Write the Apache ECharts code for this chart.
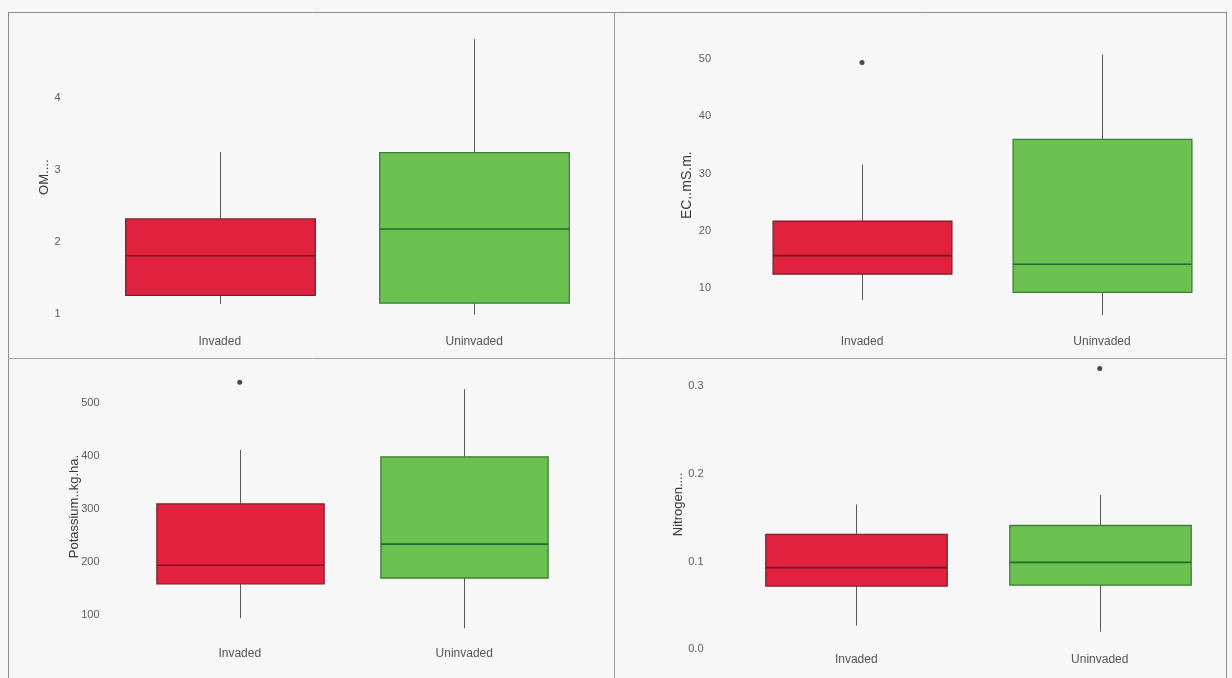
<!DOCTYPE html>
<html>
<head>
<meta charset="utf-8">
<title>Soil properties: invaded vs uninvaded plots</title>
<script src="https://cdn.jsdelivr.net/npm/echarts@6/dist/echarts.min.js"></script>
<style>
  html, body { margin: 0; padding: 0; background: #f7f7f7; }
  #chart { width: 1232px; height: 678px; }
</style>
</head>
<body>
<div id="chart"></div>
<script>
// Site groups on every x axis
const groups = ['Invaded', 'Uninvaded'];

// Five-number summaries per group: [lower whisker, Q1, median, Q3, upper whisker]
const omStats = [[1.14, 1.26, 1.81, 2.32, 3.25], [0.99, 1.15, 2.18, 3.24, 4.82]];
const ecStats = [[7.96, 12.5, 15.7, 21.7, 31.6], [5.3, 9.3, 14.2, 36.0, 50.8]];
const kStats = [[94, 159, 194, 310, 412], [75, 170, 234, 399, 527]];
const nStats = [[0.027, 0.072, 0.093, 0.131, 0.165], [0.020, 0.073, 0.099, 0.141, 0.176]];

// Points beyond the whiskers
const omOutliers = [];
const ecOutliers = [['Invaded', 49.4]];
const kOutliers = [['Invaded', 540]];
const nOutliers = [['Uninvaded', 0.32]];

// Variable names as they appear on the y axes
const varNames = ['OM....', 'EC..mS.m.', 'Potassium..kg.ha.', 'Nitrogen....'];

// Labelled tick values per panel
const omTicks = [1, 2, 3, 4];
const ecTicks = [10, 20, 30, 40, 50];
const kTicks = [100, 200, 300, 400, 500];
const nTicks = [0.0, 0.1, 0.2, 0.3];

const boxFill = ['#e1223f', '#6dc150'];
const boxEdge = ['#7c2130', '#3f7d3a'];
const medianEdge = ['#6b1c26', '#1f6a2d'];

const panels = [
  { stats: omStats, outliers: omOutliers, name: varNames[0], ticks: omTicks, digits: 0,
    grid: { left: 92.5, top: 26, width: 509, height: 302.4 },
    y: { min: 0.8, max: 5, interval: 0.2 }, xMargin: 7, yMargin: 32, nameGap: 42, nameSize: 13 },
  { stats: ecStats, outliers: ecOutliers, name: varNames[1], ticks: ecTicks, digits: 0,
    grid: { left: 742, top: 47.6, width: 480, height: 275.1 },
    y: { min: 4, max: 52, interval: 2 }, xMargin: 13, yMargin: 31, nameGap: 48, nameSize: 14 },
  { stats: kStats, outliers: kOutliers, name: varNames[2], ticks: kTicks, digits: 0,
    grid: { left: 127.5, top: 371.7, width: 449, height: 269.8 },
    y: { min: 50, max: 560, interval: 10 }, xMargin: 6, yMargin: 28, nameGap: 47, nameSize: 13 },
  { stats: nStats, outliers: nOutliers, name: varNames[3], ticks: nTicks, digits: 1,
    grid: { left: 734.5, top: 359.6, width: 487, height: 289.7 },
    y: { min: 0, max: 0.33, interval: 0.01 }, xMargin: 4, yMargin: 31, nameGap: 50, nameSize: 13 }
];

function tickFormatter(ticks, digits) {
  return function (v) {
    for (const t of ticks) {
      if (Math.abs(v - t) < 1e-7) return t.toFixed(digits);
    }
    return '';
  };
}

// Box with plain whiskers (no end caps)
function renderBox(params, api) {
  const cat = api.value(0);
  const lo = api.coord([cat, api.value(1)]);
  const q1 = api.coord([cat, api.value(2)]);
  const med = api.coord([cat, api.value(3)]);
  const q3 = api.coord([cat, api.value(4)]);
  const hi = api.coord([cat, api.value(5)]);
  const band = api.size([1, 0])[0];
  const w = band * 0.745;
  const x = Math.round(lo[0]) + 0.5;
  return {
    type: 'group',
    children: [
      { type: 'line', shape: { x1: x, y1: hi[1], x2: x, y2: q3[1] }, style: { stroke: '#5a5a5a', lineWidth: 1 } },
      { type: 'line', shape: { x1: x, y1: q1[1], x2: x, y2: lo[1] }, style: { stroke: '#5a5a5a', lineWidth: 1 } },
      { type: 'rect', shape: { x: x - w / 2, y: q3[1], width: w, height: q1[1] - q3[1] },
        style: { fill: boxFill[cat], stroke: boxEdge[cat], lineWidth: 1.3 } },
      { type: 'line', shape: { x1: x - w / 2, y1: med[1], x2: x + w / 2, y2: med[1] },
        style: { stroke: medianEdge[cat], lineWidth: 1.6 } }
    ]
  };
}

const grid = [], xAxis = [], yAxis = [], series = [];
panels.forEach((p, i) => {
  grid.push(Object.assign({ containLabel: false }, p.grid));
  xAxis.push({
    type: 'category', gridIndex: i, data: groups, boundaryGap: true,
    axisLine: { show: false }, axisTick: { show: false }, splitLine: { show: false },
    axisLabel: { margin: p.xMargin, color: '#555', fontSize: 12, fontFamily: 'Liberation Sans, Arial, sans-serif' }
  });
  yAxis.push({
    type: 'value', gridIndex: i, min: p.y.min, max: p.y.max, interval: p.y.interval,
    name: p.name, nameLocation: 'middle', nameGap: p.nameGap, nameMoveOverlap: false,
    nameTextStyle: { color: '#3a3a3a', fontSize: p.nameSize, fontFamily: 'Liberation Sans, Arial, sans-serif' },
    axisLine: { show: false }, axisTick: { show: false }, splitLine: { show: false },
    axisLabel: { margin: p.yMargin, color: '#5c5c5c', fontSize: 11, fontFamily: 'Liberation Sans, Arial, sans-serif',
      formatter: tickFormatter(p.ticks, p.digits) }
  });
  series.push({
    type: 'custom', xAxisIndex: i, yAxisIndex: i, renderItem: renderBox,
    encode: { x: 0, y: [1, 2, 3, 4, 5] },
    data: p.stats.map((s, k) => [k].concat(s)),
    silent: true
  });
  series.push({
    type: 'scatter', xAxisIndex: i, yAxisIndex: i, symbol: 'circle', symbolSize: 5,
    itemStyle: { color: '#1e1e1e' }, data: p.outliers, silent: true
  });
});

// Frame around the four panels and the dividers between them
const frame = '#8e8e8e';
const graphic = [
  { type: 'line', shape: { x1: 8, y1: 12.5, x2: 1227, y2: 12.5 }, style: { stroke: frame, lineWidth: 1 } },
  { type: 'line', shape: { x1: 8.5, y1: 12, x2: 8.5, y2: 678 }, style: { stroke: frame, lineWidth: 1 } },
  { type: 'line', shape: { x1: 1226.5, y1: 12, x2: 1226.5, y2: 678 }, style: { stroke: frame, lineWidth: 1 } },
  { type: 'line', shape: { x1: 614.5, y1: 12, x2: 614.5, y2: 678 }, style: { stroke: '#9a9a9a', lineWidth: 1 } },
  { type: 'line', shape: { x1: 8, y1: 358.5, x2: 1227, y2: 358.5 }, style: { stroke: '#9fa6ab', lineWidth: 1 } }
];

const chart = echarts.init(document.getElementById('chart'), null, { renderer: 'canvas' });
chart.setOption({
  backgroundColor: '#f7f7f7',
  animation: false,
  grid, xAxis, yAxis, series, graphic
});
</script>
</body>
</html>
